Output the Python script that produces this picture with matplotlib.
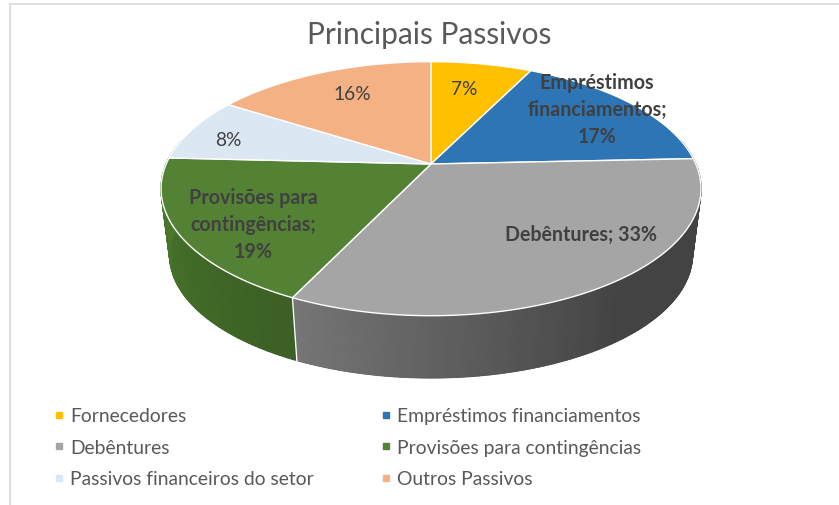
import numpy as np
import matplotlib
matplotlib.use("Agg")
import matplotlib.pyplot as plt
from matplotlib.colors import to_rgb
from matplotlib.lines import Line2D

categories = ["Fornecedores", "Empréstimos financiamentos", "Debêntures",
              "Provisões para contingências", "Passivos financeiros do setor", "Outros Passivos"]
values = [7.3, 17.0, 32.8, 18.7, 8.2, 16.0]
percent_labels = ["7%", "Empréstimos\nfinanciamentos;\n17%", "Debêntures; 33%",
                  "Provisões para\ncontingências;\n19%", "8%", "16%"]
colors = ["#FFC000", "#2E75B6", "#A5A5A5", "#548235", "#DCE7F4", "#F4B183"]
wall_left = ["#A08000", "#1F4E79", "#767676", "#4A7A2B", "#A0A8B0", "#B08060"]
wall_right = ["#A08000", "#1F4E79", "#434343", "#3C5F25", "#A0A8B0", "#B08060"]
label_pos = [(464, 89), (597, 110), (581, 235), (253, 225), (228, 140), (352, 94)]
label_bold = [False, True, True, True, False, False]

plt.rcParams["font.family"] = ["Lato", "DejaVu Sans"]
fig = plt.figure(figsize=(8.39, 5.06), dpi=100)
ax = fig.add_axes([0, 0, 1, 1])
ax.set_xlim(0, 839)
ax.set_ylim(506, 0)
ax.axis("off")

CX, CY, K, A, B = 431.0, 165.0, 0.1945, 122.2, 264.8
DY, SC = 67.0, 0.968


def project(theta, r=1.0, lower=False):
    x = r * np.sin(theta)
    y = r * np.cos(theta)
    d = 1 + K * y
    px, py = B * x / d, -A * y / d
    if lower:
        return CX + SC * px, CY + DY + SC * py
    return CX + px, CY + py


fractions = np.cumsum([0.0] + list(values)) / sum(values)
edges = fractions * 2 * np.pi

# side wall: the angle grows from right to left along the front
for i in range(len(values)):
    lo, hi = max(edges[i], np.pi / 2 - 0.2), min(edges[i + 1], 3 * np.pi / 2 + 0.2)
    if hi <= lo:
        continue
    th = np.linspace(lo, hi, int((hi - lo) * 60) + 2)
    left, right = np.array(to_rgb(wall_left[i])), np.array(to_rgb(wall_right[i]))
    xt, yt = project(th)
    xb, yb = project(th, lower=True)
    ax.fill(np.r_[xt, xb[::-1]], np.r_[yt, yb[::-1]], color=right, lw=0.5, zorder=2)
    for a, b in zip(th[:-1], th[1:]):
        xa, ya = project(a)
        xe, ye = project(b)
        xc, yc = project(b, lower=True)
        xd, yd = project(a, lower=True)
        p = (0.5 * (a + b) - lo) / (hi - lo)  # 0 at the right-hand end, 1 at the left-hand end
        t = np.clip((p - 0.47) / 0.53, 0, 1) if i == 2 else p
        col = right + (left - right) * t
        ax.fill([xa, xe, xc, xd], [ya, ye, yc, yd], color=col, lw=1.0, zorder=2.1)

# white seam between green and grey on the wall
x1, y1 = project(edges[3])
x2, y2 = project(edges[3], lower=True)
ax.plot([x1, x2], [y1, y2], color="white", lw=1.0, zorder=3)

# top face
for i in range(len(values)):
    th = np.linspace(edges[i], edges[i + 1], 120)
    xs, ys = project(th)
    ax.fill(np.r_[CX, xs], np.r_[CY, ys], facecolor=colors[i], edgecolor="white", lw=1.0, zorder=4,
            joinstyle="round")

# labels
for text, (x, y), bold in zip(percent_labels, label_pos, label_bold):
    ax.text(x, y, text, ha="center", va="center", fontsize=14.1 if bold else 13.8, color="#404040",
            fontweight="bold" if bold else "normal", linespacing=1.46, zorder=6)

ax.text(429, 35, "Principais Passivos", ha="center", va="center", fontsize=21.5, color="#595959")

# legend: matplotlib fills column by column
order = [0, 2, 4, 1, 3, 5]
handles = [Line2D([], [], ls="", marker="s", ms=5, color=colors[i], label=categories[i]) for i in order]
ax.legend(handles=handles, ncol=2, loc="upper left", bbox_to_anchor=(53 / 839, 1 - 408.5 / 506),
          bbox_transform=fig.transFigure, frameon=False, fontsize=13.9, labelcolor="#595959",
          handlelength=0.6, handletextpad=0.3, labelspacing=0.75, columnspacing=3.4,
          borderpad=0, borderaxespad=0)

# frame of the pasted chart
ax.plot([9.5, 9.5], [4.5, 506], color="#D9D9D9", lw=1.2, zorder=1)
ax.plot([9.5, 839], [4.5, 4.5], color="#D9D9D9", lw=1.2, zorder=1)

fig.savefig("out.png", dpi=100)
